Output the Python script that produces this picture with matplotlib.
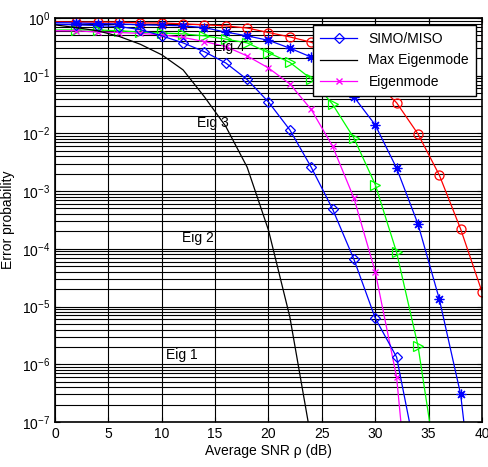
import matplotlib
matplotlib.use("Agg")
import matplotlib.pyplot as plt
from matplotlib.ticker import LogLocator, NullFormatter

plt.rcParams["font.family"] = ["Liberation Sans", "DejaVu Sans"]

# average SNR (dB), one point every 2 dB
snr = [0, 2, 4, 6, 8, 10, 12, 14, 16, 18, 20, 22, 24, 26, 28, 30, 32, 34, 36, 38, 40]
snr_max = [0, 2, 4, 6, 8, 10, 12, 14, 16, 18, 20, 22, 24]

# error probability per curve
simo_miso = [0.78, 0.76, 0.74, 0.71, 0.63, 0.49, 0.37, 0.26, 0.166, 0.086, 0.035,
             0.0115, 2.6e-3, 4.9e-4, 6.6e-5, 6.3e-6, 1.33e-6, 1.8e-8]
max_eig = [0.76, 0.68, 0.60, 0.48, 0.35, 0.23, 0.126, 0.043, 0.0132, 2.6e-3,
           2.1e-4, 6.6e-6, 5e-8]
eig_red = [0.86, 0.85, 0.85, 0.85, 0.82, 0.82, 0.79, 0.76, 0.73, 0.67, 0.56, 0.47,
           0.38, 0.26, 0.16, 0.079, 0.034, 9.8e-3, 1.9e-3, 2.2e-4, 1.8e-5]
eig_star = [0.83, 0.82, 0.80, 0.79, 0.76, 0.75, 0.73, 0.68, 0.57, 0.49, 0.41, 0.30,
            0.21, 0.10, 0.043, 0.014, 2.5e-3, 2.7e-4, 1.35e-5, 3.0e-7, 2e-10]
eig_green = [0.62, 0.62, 0.62, 0.60, 0.57, 0.55, 0.53, 0.49, 0.43, 0.37, 0.25, 0.17,
             0.088, 0.032, 8.3e-3, 1.3e-3, 8.7e-5, 2.1e-6, 8e-9]
eig_mag = [0.60, 0.60, 0.57, 0.56, 0.54, 0.51, 0.46, 0.39, 0.32, 0.22, 0.136, 0.072,
           0.026, 6.0e-3, 7.6e-4, 4.0e-5, 6.0e-7, 8e-11]

eig_labels = ["Eig 1", "Eig 2", "Eig 3", "Eig 4"]
eig_label_x = [11.9, 13.4, 14.8, 16.3]
eig_label_y = [1.45e-6, 1.55e-4, 1.5e-2, 3.2e-1]

fig = plt.figure(figsize=(4.88, 4.67), dpi=100)
ax = fig.add_axes([0.1127, 0.0964, 0.8750, 0.8651])

mk = dict(markevery=slice(1, None), linewidth=0.9,
          markerfacecolor="none", markeredgewidth=0.9)
ax.plot(snr[:len(eig_red)], eig_red, color="red", marker="o", markersize=6.5, **mk)
ax.plot(snr[:len(eig_star)], eig_star, color="blue", marker=(8, 2, 0),
        markersize=7, **mk)
ax.plot(snr[:len(eig_green)], eig_green, color="#00ff00", marker=">",
        markersize=6.5, **mk)
ax.plot(snr[:len(eig_mag)], eig_mag, color="magenta", marker="x",
        markersize=4.5, **mk)
l1, = ax.plot(snr[:len(simo_miso)], simo_miso, color="blue", marker="D",
              markersize=5.5, **mk)
l2, = ax.plot(snr_max, max_eig, color="black", linewidth=0.9)
l3, = ax.plot([], [], color="magenta", marker="x", markersize=4.5, linewidth=0.9)

for lab, xx, yy in zip(eig_labels, eig_label_x, eig_label_y):
    ax.text(xx, yy, lab, fontsize=10, ha="center", va="center")

ax.set_yscale("log")
ax.set_xlim(0, 40)
ax.set_ylim(1e-7, 1)
ax.set_xticks(range(0, 41, 5))
ax.yaxis.set_major_locator(LogLocator(base=10, numticks=10))
ax.yaxis.set_minor_locator(LogLocator(base=10, subs=range(2, 10), numticks=10))
ax.yaxis.set_minor_formatter(NullFormatter())

ax.grid(True, which="major", color="black", linewidth=0.8, linestyle="-")
ax.grid(True, which="minor", axis="y", color="black", linewidth=0.8, linestyle="-")
ax.tick_params(which="both", direction="in", labelsize=10, top=True, right=True)
ax.tick_params(which="minor", length=2)
for s in ax.spines.values():
    s.set_linewidth(1.2)

ax.set_xlabel("Average SNR \u03c1 (dB)", fontsize=10, labelpad=2)
ax.set_ylabel("Error probability", fontsize=10, labelpad=5)

leg = ax.legend([l1, l2, l3], ["SIMO/MISO", "Max Eigenmode", "Eigenmode"],
                loc="upper right", bbox_to_anchor=(0.986, 0.983), borderaxespad=0,
                fontsize=10, fancybox=False, framealpha=1, edgecolor="black",
                handlelength=2.7, labelspacing=0.55, borderpad=0.5)
leg.get_frame().set_linewidth(1.0)

fig.savefig("out.png", dpi=100)
